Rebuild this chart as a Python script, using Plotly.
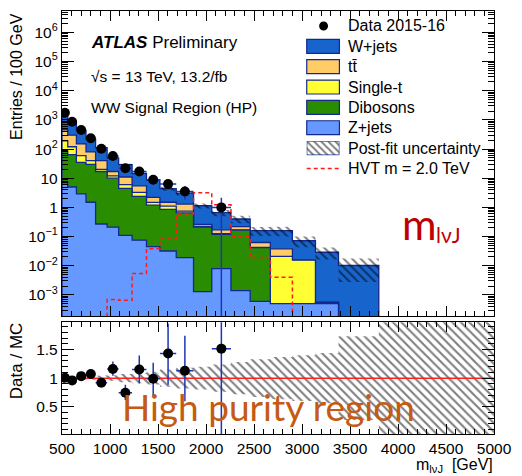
import numpy as np
import plotly.graph_objects as go

# ---------------- data ----------------
edges = [500, 560, 650, 750, 850, 970, 1090, 1230, 1380, 1520, 1690, 1870,
         2060, 2260, 2460, 2670, 2900, 3140, 3380, 3800, 5000]

z_jets   = [7, 5, 2.9, 1.5, 0.27, 0.21, 0.11, 0.075, 0.045, 0.032, 0.019, 0.0013,
            0.008, 0.0014, 0.0006, 0.0005, 0.0005, 0.0005, 0, 0]
dibosons = [78, 60, 32, 28.5, 16.7, 9.8, 4.4, 2.3, 1.15, 0.82, 0.63, 0.21,
            0.112, 0.164, 0.041, 0, 0, 0.00005, 0, 0]
single_t = [105, 55, 25, 10, 3, 2, 1.5, 0.9, 0.3, 0.25, 0.1, 0.01,
            0.005, 0.005, 0.001, 0.0205, 0.015, 0, 0, 0]
ttbar    = [270, 180, 90, 40, 20, 5, 5, 2.2, 0.7, 0.4, 0.55, 0.04,
            0.045, 0.05, 0.02, 0.017, 0, 0, 0, 0]
w_jets   = [1280, 606, 285, 138, 72, 33, 18.5, 9.3, 6.8, 2.9, 1.8, 0.88,
            0.49, 0.18, 0.097, 0.122, 0.0565, 0.0285, 0.0102, 0]

data        = [1750, 870, 450, 234, 103, 58, 22, 17, 8.9, 6.3, 3.5, None,
               1.0, None, None, None, None, None, None, None]
data_err_up = [52, 32, 20, 13, 8, 6.5, 4.1, 3.6, 2.5, 2.3, 1.9, None,
               1.15, None, None, None, None, None, None, None]
data_err_dn = [52, 32, 20, 13, 8, 6, 3.8, 3.6, 2.7, 2.4, 1.65, None,
               1.0, None, None, None, None, None, None, None]

hvt = [0, 0, 0, 0, 0, 0.0007, 0.00065, 0.0054, 0.038, 0.083, 0.59, 3.2,
       1.23, 0.1, 0.019, 0.004, 0, 0, 0, 0]

rel_unc = [0.02, 0.02, 0.025, 0.03, 0.04, 0.05, 0.07, 0.09, 0.11, 0.15, 0.18, 0.20,
           0.24, 0.28, 0.33, 0.37, 0.40, 0.44, 0.73, 1.0]

legend_labels = ["Data 2015-16", "W+jets", "tt\u0304", "Single-t", "Dibosons",
                 "Z+jets", "Post-fit uncertainty", "HVT m = 2.0 TeV"]

# ---------------- styles ----------------
C_W, C_TT, C_ST, C_VV, C_Z = "#1764CC", "#FFCC66", "#FFFF33", "#2A8C00", "#6699FF"
NAVY = "#13288f"
ERRC = "#1f35b5"
FONT = "Liberation Sans, Arial, sans-serif"
FLOOR = 1e-7
DASH = "4px,3px"

W_PX, H_PX = 522, 476
L, R, T, B = 62, 24, 10, 42
PW, PH = W_PX - L - R, H_PX - T - B
MAIN_BOT_PX, RATIO_TOP_PX = 316, 322


def px_x(px):
    return (px - L) / PW


def px_y(py):
    return (H_PX - B - py) / PH


centers = [(a + b) / 2 for a, b in zip(edges[:-1], edges[1:])]
halfw = [(b - a) / 2 for a, b in zip(edges[:-1], edges[1:])]
nb = len(centers)

stack = np.array([z_jets, dibosons, single_t, ttbar, w_jets], dtype=float)
cum = np.cumsum(stack, axis=0)
total = cum[-1]


def step_line(vals, floor=FLOOR):
    xs, ys = [], []
    for i, v in enumerate(vals):
        vv = v if (v is not None and v > 0) else floor
        xs += [edges[i], edges[i + 1]]
        ys += [vv, vv]
    return xs, ys


def band_poly(lo, hi, idx):
    xs, ys = [], []
    for i in idx:
        xs += [edges[i], edges[i + 1]]
        ys += [hi[i], hi[i]]
    for i in reversed(idx):
        xs += [edges[i + 1], edges[i]]
        ys += [lo[i], lo[i]]
    xs.append(xs[0]); ys.append(ys[0])
    return xs, ys


fig = go.Figure()

# ---- stacked histograms (drawn top cumulative first) ----
layer_colors = [C_Z, C_VV, C_ST, C_TT, C_W]
for k in range(4, -1, -1):
    xs, ys = step_line(cum[k])
    xs = xs + [edges[-1], edges[0], edges[0]]
    ys = ys + [FLOOR, FLOOR, ys[0]]
    fig.add_trace(go.Scatter(x=xs, y=ys, mode="lines", fill="toself",
                             fillcolor=layer_colors[k],
                             line=dict(color=NAVY, width=1.3),
                             xaxis="x2", yaxis="y2", showlegend=False,
                             hoverinfo="skip"))

# ---- HVT signal ----
xs, ys = step_line(hvt)
fig.add_trace(go.Scatter(x=xs, y=ys, mode="lines",
                         line=dict(color="#ff1a1a", width=1.5, dash=DASH),
                         xaxis="x2", yaxis="y2", showlegend=False, hoverinfo="skip"))

# ---- uncertainty band main ----
pat = dict(shape="\\", fgcolor="black", bgcolor="rgba(0,0,0,0)", size=6, solidity=0.35)
idx = [i for i in range(nb) if total[i] > 0]
hi = [total[i] * (1 + rel_unc[i]) for i in range(nb)]
lo = [total[i] * (1 - rel_unc[i]) for i in range(nb)]
xs, ys = band_poly(lo, hi, idx)
fig.add_trace(go.Scatter(x=xs, y=ys, mode="lines", fill="toself",
                         fillcolor="rgba(0,0,0,0)", fillpattern=pat,
                         line=dict(width=0), xaxis="x2", yaxis="y2",
                         showlegend=False, hoverinfo="skip"))

# ---- data main ----
di = [i for i in range(nb) if data[i] is not None]
dx = [centers[i] for i in di]
dy = [data[i] for i in di]
dup = [data_err_up[i] for i in di]
ddn = [min(data_err_dn[i], data[i] - 1e-6) for i in di]
dhw = [halfw[i] for i in di]
fig.add_trace(go.Scatter(x=dx, y=dy, mode="markers",
                         marker=dict(color="black", size=10),
                         error_y=dict(type="data", symmetric=False, array=dup, arrayminus=ddn,
                                      color=ERRC, thickness=1.5, width=0),
                         error_x=dict(type="data", array=dhw, color=ERRC, thickness=1.5, width=0),
                         xaxis="x2", yaxis="y2", showlegend=False, hoverinfo="skip"))

# ---- ratio panel ----
rhi = [1 + u for u in rel_unc]
rlo = [1 - u for u in rel_unc]
xs, ys = band_poly(rlo, rhi, list(range(nb)))
fig.add_trace(go.Scatter(x=xs, y=ys, mode="lines", fill="toself",
                         fillcolor="rgba(0,0,0,0)", fillpattern=pat,
                         line=dict(width=0), xaxis="x", yaxis="y",
                         showlegend=False, hoverinfo="skip"))
fig.add_trace(go.Scatter(x=[edges[0], edges[-1]], y=[1, 1], mode="lines",
                         line=dict(color="#ff2020", width=1.5),
                         xaxis="x", yaxis="y", showlegend=False, hoverinfo="skip"))
ry = [data[i] / total[i] for i in di]
rup = [data_err_up[i] / total[i] for i in di]
rdn = [data_err_dn[i] / total[i] for i in di]
fig.add_trace(go.Scatter(x=dx, y=ry, mode="markers",
                         marker=dict(color="black", size=10),
                         error_y=dict(type="data", symmetric=False, array=rup, arrayminus=rdn,
                                      color=ERRC, thickness=1.5, width=0),
                         error_x=dict(type="data", array=dhw, color=ERRC, thickness=1.5, width=0),
                         xaxis="x", yaxis="y", showlegend=False, hoverinfo="skip"))

# ---- legend hatch box (small helper axes) ----
fig.add_trace(go.Scatter(x=[0, 1, 1, 0, 0], y=[0, 0, 1, 1, 0], mode="lines", fill="toself",
                         fillcolor="white", fillpattern=dict(shape="\\", fgcolor="black",
                                                             bgcolor="white", size=5, solidity=0.4),
                         line=dict(color=NAVY, width=1.2), xaxis="x3", yaxis="y3",
                         showlegend=False, hoverinfo="skip"))

# ---------------- layout ----------------
tickfont = dict(family=FONT, size=15.5, color="black")
main_dom = [px_y(MAIN_BOT_PX), 1.0]
ratio_dom = [0.0, px_y(RATIO_TOP_PX)]

xcommon = dict(range=[edges[0], edges[-1]], tick0=500, dtick=500, ticks="inside",
               ticklen=10, tickcolor="black", showline=True, linecolor="black",
               linewidth=1.3, mirror="ticks", showgrid=False, zeroline=False,
               minor=dict(ticks="inside", ticklen=5, dtick=100, tick0=500, tickcolor="black"),
               tickfont=tickfont)

ylog_major = [10.0 ** d for d in range(-3, 7)]
ylog_text = ["10<sup>\u22123</sup>", "10<sup>\u22122</sup>", "10<sup>\u22121</sup>", "1", "10",
             "10<sup>2</sup>", "10<sup>3</sup>", "10<sup>4</sup>", "10<sup>5</sup>", "10<sup>6</sup>"]
ylog_minor = [k * 10.0 ** d for d in range(-4, 7) for k in range(2, 10)]

fig.update_layout(
    width=W_PX, height=H_PX,
    margin=dict(l=L, r=R, t=T, b=B),
    paper_bgcolor="white", plot_bgcolor="white",
    showlegend=False,
    xaxis=dict(**xcommon, anchor="y", domain=[0, 1]),
    yaxis=dict(domain=ratio_dom, range=[0.024, 1.976], tickmode="array",
               tickvals=[0.5, 1, 1.5], ticktext=["0.5", "1", "1.5"], ticks="inside",
               ticklen=12, tickcolor="black", showline=True, linecolor="black", linewidth=1.3,
               mirror="ticks", showgrid=False, zeroline=False, anchor="x",
               minor=dict(ticks="inside", ticklen=6, dtick=0.1, tick0=0, tickcolor="black"),
               tickfont=tickfont),
    xaxis2=dict(**{k: v for k, v in xcommon.items() if k != "tickfont"}, anchor="y2",
                domain=[0, 1], matches="x", showticklabels=False),
    yaxis2=dict(domain=main_dom, type="log", range=[-3.733, 6.734], tickmode="array",
                tickvals=ylog_major, ticktext=ylog_text, ticks="inside", ticklen=12,
                tickcolor="black", showline=True, linecolor="black", linewidth=1.3,
                mirror="ticks", showgrid=False, zeroline=False, anchor="x2",
                minor=dict(ticks="inside", ticklen=6, tickmode="array", tickvals=ylog_minor,
                           tickcolor="black"),
                tickfont=tickfont),
    xaxis3=dict(domain=[px_x(309), px_x(342)], range=[0, 1], visible=False, anchor="y3",
                fixedrange=True),
    yaxis3=dict(domain=[px_y(154.5), px_y(140.5)], range=[0, 1], visible=False, anchor="x3",
                fixedrange=True),
)

shapes = []
ann = []

# legend entries
leg_cy = [25 + 20.4 * i for i in range(8)]
box_cols = [C_W, C_TT, C_ST, C_VV, C_Z]
shapes.append(dict(type="circle", xref="paper", yref="paper",
                   x0=px_x(321.5), x1=px_x(330.5), y0=px_y(leg_cy[0] + 4.5), y1=px_y(leg_cy[0] - 4.5),
                   fillcolor="black", line=dict(color="black", width=0)))
for j, col in enumerate(box_cols):
    cy = leg_cy[j + 1]
    shapes.append(dict(type="rect", xref="paper", yref="paper",
                       x0=px_x(309), x1=px_x(342), y0=px_y(cy + 7), y1=px_y(cy - 7),
                       fillcolor=col, line=dict(color=NAVY, width=1.2)))
shapes.append(dict(type="line", xref="paper", yref="paper",
                   x0=px_x(309), x1=px_x(342), y0=px_y(leg_cy[7]), y1=px_y(leg_cy[7]),
                   line=dict(color="#ff1a1a", width=1.5, dash=DASH)))
for j, lab in enumerate(legend_labels):
    ann.append(dict(text=lab, xref="paper", yref="paper", x=px_x(349), y=px_y(leg_cy[j]),
                    xanchor="left", yanchor="middle", showarrow=False,
                    font=dict(family=FONT, size=16, color="black")))

# ATLAS labels
ann.append(dict(text="<b><i>ATLAS</i></b> Preliminary", xref="paper", yref="paper",
                x=px_x(89), y=px_y(42), xanchor="left", yanchor="middle", showarrow=False,
                font=dict(family=FONT, size=17, color="black")))
ann.append(dict(text="\u221as = 13 TeV, 13.2/fb", xref="paper", yref="paper",
                x=px_x(89), y=px_y(76), xanchor="left", yanchor="middle", showarrow=False,
                font=dict(family=FONT, size=15.5, color="black")))
ann.append(dict(text="WW Signal Region (HP)", xref="paper", yref="paper",
                x=px_x(89), y=px_y(107), xanchor="left", yanchor="middle", showarrow=False,
                font=dict(family=FONT, size=15.5, color="black")))

# axis titles
ann.append(dict(text="Entries / 100 GeV", xref="paper", yref="paper", x=px_x(16), y=px_y(10),
                xanchor="center", yanchor="top", textangle=-90, showarrow=False,
                font=dict(family=FONT, size=16, color="black")))
ann.append(dict(text="Data / MC", xref="paper", yref="paper", x=px_x(16), y=px_y(320),
                xanchor="center", yanchor="top", textangle=-90, showarrow=False,
                font=dict(family=FONT, size=17, color="black")))
ann.append(dict(text="m<sub>l\u03bdJ</sub>  [GeV]", xref="paper", yref="paper",
                x=px_x(499), y=px_y(466), xanchor="right", yanchor="middle", showarrow=False,
                font=dict(family=FONT, size=16, color="black")))

# overlay labels
ann.append(dict(text="m", xref="paper", yref="paper", x=px_x(422.5), y=px_y(223.5),
                xanchor="center", yanchor="middle", showarrow=False,
                font=dict(family="Lato, Open Sans, sans-serif", size=42, color="#C00000")))
ann.append(dict(text="l\u03bdJ", xref="paper", yref="paper", x=px_x(452.5), y=px_y(234),
                xanchor="center", yanchor="middle", showarrow=False,
                font=dict(family="Lato, Open Sans, sans-serif", size=21, color="#C00000")))
ann.append(dict(text="High purity region", xref="paper", yref="paper", x=px_x(270), y=px_y(406),
                xanchor="center", yanchor="middle", showarrow=False,
                font=dict(family="Lato, Open Sans, sans-serif", size=37, color="#C55A11")))

fig.update_layout(shapes=shapes, annotations=ann)
fig.write_html("out.html")
